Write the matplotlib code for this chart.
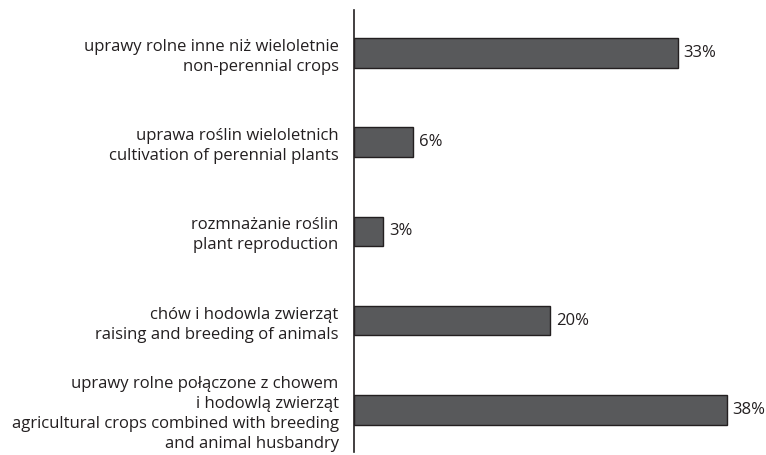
import matplotlib.pyplot as plt

plt.rcParams['font.family'] = ['Open Sans', 'DejaVu Sans']

labels = ['uprawy rolne inne niż wieloletnie\nnon-perennial crops',
          'uprawa roślin wieloletnich\ncultivation of perennial plants',
          'rozmnażanie roślin\nplant reproduction',
          'chów i hodowla zwierząt\nraising and breeding of animals',
          'uprawy rolne połączone z chowem\ni hodowlą zwierząt\n'
          'agricultural crops combined with breeding\nand animal husbandry']
values = [33, 6, 3, 20, 38]

fig = plt.figure(figsize=(7.66, 4.55), dpi=100)
ax = fig.add_axes([354 / 766, 3 / 455, 1 - 354 / 766, 442 / 455])

pos = range(len(values))
ax.barh(pos, values, height=0.33, color='#58595b', edgecolor='#231f20', linewidth=1)
for p, v in zip(pos, values):
    ax.text(v + 0.6, p, f'{v}%', va='center', ha='left', fontsize=12, color='#231f20')

ax.set_ylim(4.47, -0.48)
ax.set_xlim(0, 42)
ax.set_yticks(list(pos))
ax.set_yticklabels(labels, fontsize=12, color='#231f20', linespacing=1.33)
ax.tick_params(axis='y', length=0, pad=11)
ax.set_xticks([])
for s in ['top', 'right', 'bottom']:
    ax.spines[s].set_visible(False)
ax.spines['left'].set_color('#231f20')
ax.spines['left'].set_linewidth(1.2)

fig.savefig('out.png', dpi=100)
